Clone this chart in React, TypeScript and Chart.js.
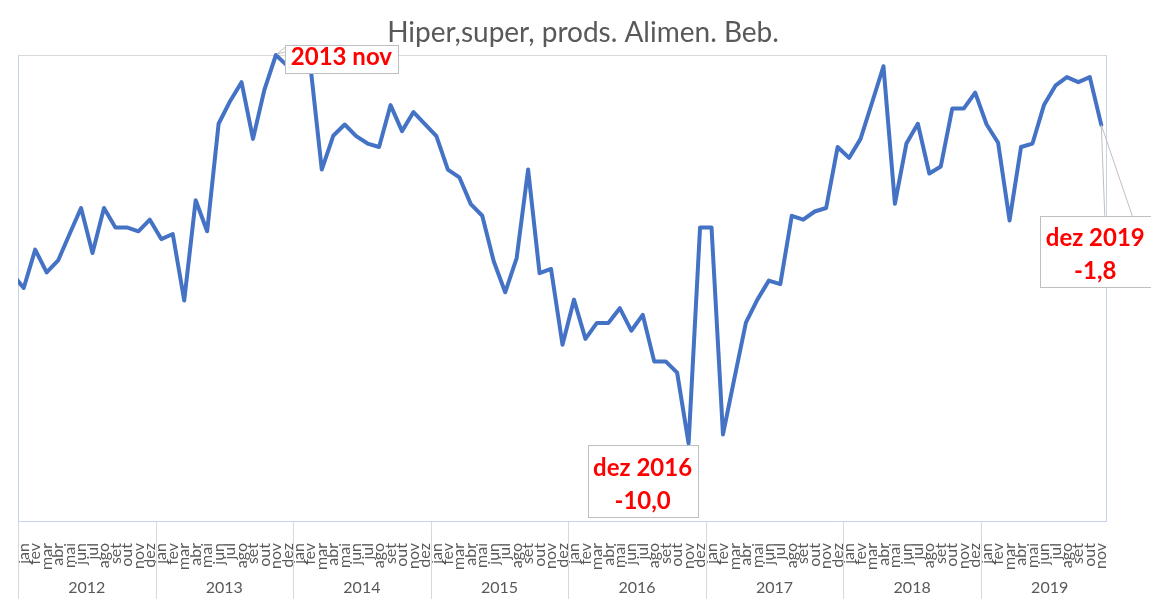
import React, { useEffect, useRef } from 'react';
import { Chart, registerables } from 'chart.js';

Chart.register(...registerables);

const TITLE = 'Hiper,super, prods. Alimen. Beb.';
const MONTHS = ['jan', 'fev', 'mar', 'abr', 'mai', 'jun', 'jul', 'ago', 'set', 'out', 'nov', 'dez'];
const YEARS = ['2012', '2013', '2014', '2015', '2016', '2017', '2018', '2019'];
const MONTHS_IN_LAST_YEAR = 11;

// The line enters the plot from a preceding month (dez 2011), only its last segment is visible
const LEAD_LABEL = 'dez';
const LEAD_VALUE = -5.64;

const V2012 = [-6.0, -5.01, -5.6, -5.29, -4.61, -3.94, -5.1, -3.94, -4.44, -4.44, -4.54, -4.24];
const V2013 = [-4.74, -4.61, -6.32, -3.74, -4.54, -1.77, -1.19, -0.7, -2.16, -0.89, 0.0, -0.28];
const V2014 = [-0.35, -0.25, -2.95, -2.08, -1.79, -2.09, -2.28, -2.37, -1.29, -1.96, -1.47, -1.78];
const V2015 = [-2.09, -2.95, -3.15, -3.84, -4.14, -5.31, -6.11, -5.23, -2.95, -5.62, -5.51, -7.46];
const V2016 = [-6.3, -7.31, -6.9, -6.9, -6.52, -7.1, -6.69, -7.89, -7.89, -8.18, -10.0, -4.44];
const V2017 = [-4.44, -9.77, -8.32, -6.89, -6.3, -5.81, -5.9, -4.14, -4.24, -4.03, -3.94, -2.37];
const V2018 = [-2.65, -2.16, -1.23, -0.29, -3.83, -2.28, -1.77, -3.05, -2.87, -1.38, -1.38, -0.97];
const V2019 = [-1.79, -2.26, -4.26, -2.37, -2.28, -1.29, -0.79, -0.57, -0.7, -0.57, -1.8];

const Y_MIN = -12;
const Y_MAX = 0;

// annotated points: index into the full series (0 = lead point)
const NOTE_PEAK = { index: 23, lines: ['2013 nov'] };
const NOTE_LOW = { index: 59, lines: ['dez 2016', '-10,0'] };
const NOTE_LAST = { index: 95, lines: ['dez 2019', '-1,8'] };

const LABELS: string[] = [
  LEAD_LABEL,
  ...YEARS.flatMap((_, i) => (i === YEARS.length - 1 ? MONTHS.slice(0, MONTHS_IN_LAST_YEAR) : MONTHS)),
];
const VALUES: number[] = [LEAD_VALUE, ...V2012, ...V2013, ...V2014, ...V2015, ...V2016, ...V2017, ...V2018, ...V2019];

const FONT = 'Lato, "Open Sans", sans-serif';
const GRAY_TEXT = '#595959';
const RED = '#FF0000';
const BOX_BORDER = '#BFBFBF';
const LIGHT_BLUE = '#C7D3EE';
const LIGHT_GRAY = '#D9D9D9';

function drawBox(ctx: CanvasRenderingContext2D, left: number, top: number, w: number, h: number) {
  ctx.save();
  ctx.fillStyle = '#FFFFFF';
  ctx.fillRect(left, top, w, h);
  ctx.strokeStyle = BOX_BORDER;
  ctx.lineWidth = 1;
  ctx.strokeRect(Math.round(left) + 0.5, Math.round(top) + 0.5, Math.round(w), Math.round(h));
  ctx.restore();
}

function drawLines(ctx: CanvasRenderingContext2D, lines: string[], cx: number, firstY: number, gap: number) {
  ctx.save();
  ctx.fillStyle = RED;
  ctx.font = `bold 24px ${FONT}`;
  ctx.textAlign = 'center';
  ctx.textBaseline = 'middle';
  lines.forEach((t, i) => ctx.fillText(t, cx, firstY + i * gap));
  ctx.restore();
}

function leader(ctx: CanvasRenderingContext2D, x0: number, y0: number, pts: [number, number][]) {
  ctx.save();
  ctx.strokeStyle = BOX_BORDER;
  ctx.lineWidth = 1;
  pts.forEach(([x1, y1]) => {
    ctx.beginPath();
    ctx.moveTo(x0, y0);
    ctx.lineTo(x1, y1);
    ctx.stroke();
  });
  ctx.restore();
}

const overlay = {
  id: 'overlay',
  beforeDatasetsDraw(chart: any) {
    const { ctx, chartArea: a } = chart;
    ctx.save();
    ctx.lineWidth = 1;
    ctx.strokeStyle = LIGHT_GRAY;
    ctx.beginPath();
    ctx.moveTo(a.left, a.top + 0.5);
    ctx.lineTo(a.right, a.top + 0.5);
    ctx.stroke();
    ctx.strokeStyle = LIGHT_BLUE;
    ctx.beginPath();
    ctx.moveTo(a.left + 0.5, a.top);
    ctx.lineTo(a.left + 0.5, a.bottom);
    ctx.moveTo(a.right - 0.5, a.top);
    ctx.lineTo(a.right - 0.5, a.bottom);
    ctx.moveTo(a.left, a.bottom + 0.5);
    ctx.lineTo(a.right, a.bottom + 0.5);
    ctx.stroke();
    ctx.restore();
  },
  afterDatasetsDraw(chart: any) {
    const { ctx, scales } = chart;
    const x = scales.x;
    const y = scales.y;
    const px = (i: number) => x.getPixelForValue(i);
    const py = (i: number) => y.getPixelForValue(VALUES[i]);

    // peak note
    {
      const X = px(NOTE_PEAK.index);
      const Y = py(NOTE_PEAK.index);
      const left = X + 9;
      const top = Y - 10;
      leader(ctx, X + 1, Y - 1, [[left + 3, top], [left, top + 7]]);
      drawBox(ctx, left, top, 113, 28);
      drawLines(ctx, NOTE_PEAK.lines, left + 56.5, top + 12.5, 33);
    }
    // low note
    {
      const X = px(NOTE_LOW.index);
      const Y = py(NOTE_LOW.index);
      const left = X - 101;
      const top = Y + 2;
      drawBox(ctx, left, top, 110, 72);
      drawLines(ctx, NOTE_LOW.lines, left + 55, top + 22.5, 33);
    }
    // last note
    {
      const X = px(NOTE_LAST.index);
      const Y = py(NOTE_LAST.index);
      const left = X - 61.5;
      const top = Y + 91;
      leader(ctx, X, Y, [[X + 3.5, top], [X + 31, top]]);
      drawBox(ctx, left, top, 111, 71);
      drawLines(ctx, NOTE_LAST.lines, left + 55.5, top + 22.5, 33);
    }
  },
  afterDraw(chart: any) {
    const { ctx, chartArea: a, scales, height } = chart;
    const x = scales.x;
    const step = x.getPixelForValue(2) - x.getPixelForValue(1);
    ctx.save();
    // title
    ctx.fillStyle = GRAY_TEXT;
    ctx.font = `28px ${FONT}`;
    ctx.textAlign = 'center';
    ctx.textBaseline = 'alphabetic';
    ctx.fillText(TITLE, 583, 42);
    // year separators and labels
    ctx.strokeStyle = LIGHT_GRAY;
    ctx.lineWidth = 1;
    ctx.font = `16px ${FONT}`;
    ctx.textBaseline = 'middle';
    YEARS.forEach((yr, i) => {
      const start = 1 + i * 12;
      const sx = Math.round(x.getPixelForValue(start) - step / 2) + 0.5;
      ctx.beginPath();
      ctx.moveTo(sx, a.bottom + 1);
      ctx.lineTo(sx, height);
      ctx.stroke();
      ctx.fillText(yr, x.getPixelForValue(start) - step / 2 + 6 * step, 588);
    });
    ctx.restore();
  },
};

export default function App() {
  const ref = useRef<HTMLCanvasElement | null>(null);
  useEffect(() => {
    if (!ref.current) return;
    const chart = new Chart(ref.current, {
      type: 'line',
      data: {
        labels: LABELS,
        datasets: [
          {
            data: VALUES,
            borderColor: '#4472C4',
            borderWidth: 4,
            pointRadius: 0,
            tension: 0,
            fill: false,
            borderJoinStyle: 'round',
            borderCapStyle: 'round',
            clip: { left: 0, top: 6, right: 6, bottom: 6 },
          } as any,
        ],
      },
      options: {
        responsive: false,
        animation: false,
        layout: { padding: { left: 18, top: 55, right: 44, bottom: 0 } },
        plugins: {
          legend: { display: false },
          title: { display: false },
          tooltip: { enabled: false },
        },
        scales: {
          x: {
            type: 'category',
            min: 1,
            max: VALUES.length - 1,
            offset: true,
            grid: { display: false },
            border: { display: false },
            ticks: {
              autoSkip: false,
              minRotation: 90,
              maxRotation: 90,
              padding: 14,
              color: GRAY_TEXT,
              font: { family: FONT, size: 16 },
            },
            afterFit: (s: any) => {
              s.height = 78;
            },
          },
          y: { display: false, min: Y_MIN, max: Y_MAX },
        },
      },
      plugins: [overlay],
    });
    return () => chart.destroy();
  }, []);
  return (
    <canvas
      ref={ref}
      width={1151}
      height={599}
      style={{ position: 'absolute', left: 0, top: 0, display: 'block', background: '#FFFFFF' }}
    />
  );
}
